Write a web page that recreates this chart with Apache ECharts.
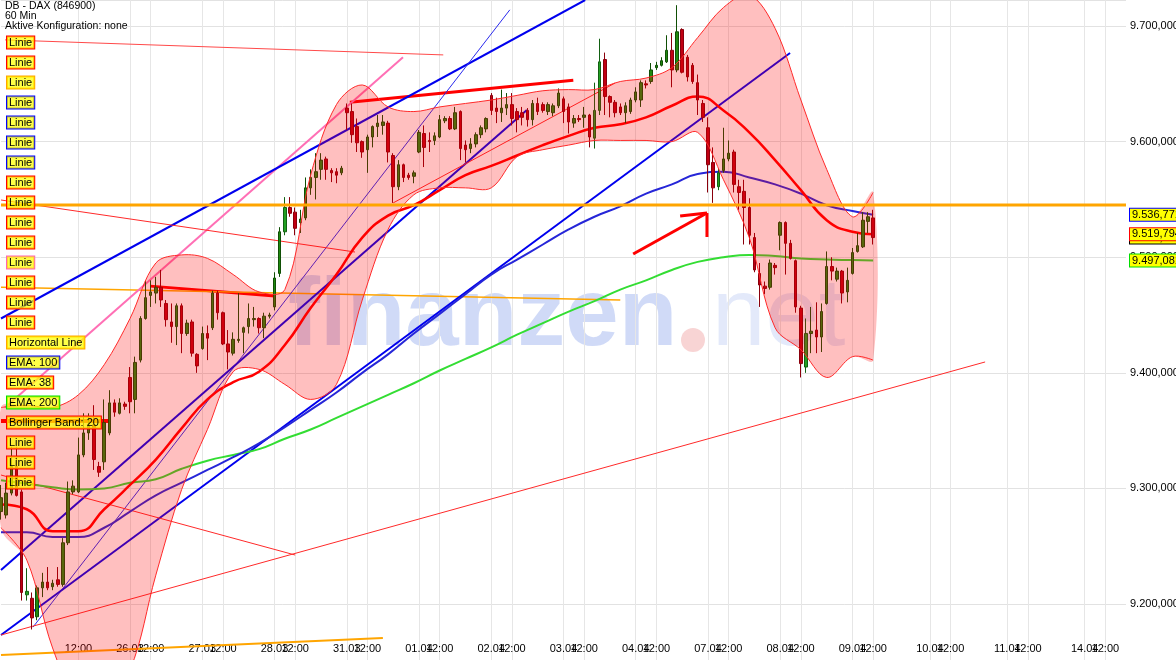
<!DOCTYPE html>
<html><head><meta charset="utf-8">
<script src="https://cdn.jsdelivr.net/npm/echarts@6/dist/echarts.min.js"></script>
<style>html,body{margin:0;padding:0;background:#fff}#c{width:1176px;height:660px}</style>
</head><body><div id="c"></div>
<script>
// ---------- time slots ----------
const days = ['24.03','25.03','26.03','27.03','28.03','31.03','01.04','02.04','03.04','04.04','07.04','08.04','09.04','10.04','11.04','14.04'];
const dayFirstHour = [11,8,8,8,8,8,8,8,8,8,8,8,8,8,8,8];
const dayLastHour  = [21,21,21,21,21,21,21,21,21,21,21,21,22,22,22,16];
const hiddenDayLabels = ['24.03','25.03'];
const hiddenNoonLabels = ['24.03'];

// ---------- candles (60 min) ----------
const opens  = [9280,9277,9296,9319,9297,9208,9205,9189,9214,9219,9215,9221,9217,9253,9297,9297,9329,9348,9355,9319,9323,9348,9374,9365,9373,9396,9377,9411,9447,9467,9469,9474,9460,9444,9440,9458,9434,9444,9416,9421,9434,9439,9469,9452,9425,9417,9428,9435,9440,9446,9447,9439,9449,9457,9486,9522,9543,9539,9530,9534,9560,9569,9576,9585,9575,9574,9573,9629,9626,9613,9600,9593,9604,9613,9614,9616,9588,9561,9580,9571,9570,9591,9607,9601,9601,9604,9618,9620,9611,9626,9597,9594,9598,9606,9611,9640,9629,9625,9629,9632,9626,9625,9627,9619,9633,9632,9626,9625,9631,9637,9630,9616,9620,9621,9623,9603,9627,9671,9639,9634,9630,9625,9626,9636,9636,9650,9652,9664,9666,9669,9679,9662,9697,9673,9666,9651,9633,9612,9582,9561,9575,9585,9591,9561,9557,9543,9517,9486,9475,9474,9493,9519,9530,9512,9497,9456,9405,9434,9437,9431,9460,9492,9481,9488,9470,9486,9505,9509,9531,9534];
const closes = [9292,9296,9319,9294,9210,9211,9188,9214,9219,9214,9218,9217,9253,9297,9302,9329,9348,9355,9325,9314,9357,9374,9366,9374,9371,9375,9409,9447,9465,9470,9474,9463,9446,9440,9458,9434,9443,9417,9406,9434,9430,9469,9452,9425,9418,9429,9429,9439,9447,9447,9439,9449,9450,9482,9522,9543,9538,9525,9533,9560,9569,9574,9584,9576,9573,9571,9577,9625,9606,9599,9591,9604,9613,9616,9617,9591,9561,9580,9569,9569,9573,9608,9595,9600,9605,9619,9620,9611,9625,9594,9593,9598,9606,9612,9620,9627,9626,9629,9632,9620,9619,9621,9619,9633,9626,9627,9632,9631,9642,9626,9617,9620,9619,9623,9604,9627,9669,9639,9634,9625,9625,9631,9636,9643,9651,9649,9662,9666,9670,9679,9662,9695,9660,9656,9652,9636,9621,9580,9560,9573,9585,9590,9563,9556,9543,9519,9489,9476,9473,9495,9491,9530,9512,9499,9457,9408,9434,9436,9431,9453,9492,9488,9488,9469,9480,9504,9510,9532,9535,9517];
const lows   = [9273,9274,9294,9293,9203,9203,9178,9186,9206,9212,9212,9215,9215,9251,9295,9296,9327,9342,9316,9310,9316,9346,9362,9364,9368,9365,9365,9409,9446,9457,9460,9457,9440,9426,9424,9417,9432,9414,9400,9420,9411,9437,9446,9424,9403,9415,9426,9417,9434,9440,9434,9430,9447,9454,9483,9519,9535,9519,9521,9532,9554,9550,9567,9567,9565,9564,9571,9610,9599,9591,9586,9573,9595,9604,9606,9582,9547,9558,9565,9567,9564,9590,9578,9591,9597,9603,9616,9610,9610,9584,9582,9590,9595,9603,9608,9623,9616,9617,9623,9614,9608,9614,9613,9614,9623,9625,9623,9622,9629,9616,9607,9612,9617,9612,9595,9594,9623,9623,9621,9621,9623,9616,9624,9634,9630,9646,9650,9662,9665,9668,9647,9660,9659,9652,9650,9623,9617,9556,9547,9558,9573,9583,9556,9541,9511,9511,9487,9457,9468,9472,9485,9506,9485,9498,9452,9396,9400,9417,9417,9418,9459,9480,9479,9460,9461,9485,9504,9508,9521,9511];
const highs  = [9303,9305,9336,9336,9299,9231,9210,9216,9227,9232,9221,9232,9257,9306,9307,9344,9365,9365,9372,9323,9377,9385,9377,9378,9375,9405,9414,9449,9480,9480,9483,9489,9463,9460,9460,9460,9446,9446,9417,9440,9441,9471,9471,9453,9437,9435,9469,9440,9460,9457,9448,9452,9452,9487,9526,9552,9552,9543,9541,9569,9576,9590,9590,9587,9577,9577,9579,9633,9633,9620,9601,9606,9614,9623,9623,9618,9590,9584,9581,9573,9575,9610,9614,9608,9608,9623,9622,9622,9630,9627,9601,9603,9608,9614,9621,9642,9638,9645,9642,9642,9629,9630,9629,9636,9638,9634,9634,9633,9646,9639,9633,9623,9623,9630,9624,9651,9689,9677,9640,9636,9633,9634,9638,9647,9653,9653,9668,9669,9673,9692,9694,9718,9698,9675,9668,9658,9636,9621,9595,9577,9612,9601,9593,9567,9567,9551,9521,9495,9479,9498,9495,9531,9531,9515,9498,9458,9447,9457,9461,9460,9505,9500,9491,9489,9491,9508,9521,9539,9539,9541];
const brightBars = [5,55,115,116,139,156];

// ---------- indicators (sampled) ----------
const indicatorIdx = [0,5,10,15,20,25,30,35,40,45,50,55,60,65,70,75,80,85,90,95,100,105,110,115,120,125,130,135,140,145,150,155,160,165,169];
const ema100 = [9262,9262,9258,9258,9266,9280,9294,9305,9316,9327,9339,9353,9368,9383,9400,9416,9434,9451,9468,9485,9498,9511,9524,9535,9544,9555,9563,9572,9574,9569,9563,9555,9545,9540,9536.771];
const ema38  = [9286,9282,9263,9263,9282,9303,9325,9352,9377,9392,9401,9424,9456,9485,9517,9536,9545,9558,9571,9579,9588,9597,9605,9612,9615,9621,9631,9639,9627,9608,9584,9558,9532,9522,9519.794];
const ema200 = [9307,9304,9301,9299,9300,9305,9308,9317,9324,9329,9334,9343,9351,9361,9371,9381,9391,9402,9412,9422,9433,9443,9453,9462,9472,9480,9489,9496,9500,9502,9501,9499,9498,9497.5,9497.081];
const bbUpper = [9370,9372,9370,9381,9407,9447,9495,9502,9499,9485,9470,9472,9571,9632,9649,9630,9626,9630,9633,9636,9640,9644,9645,9645,9652,9655,9664,9690,9716,9727,9698,9636,9576,9535,9556];
const bbLower = [9266,9238,9162,9117,9117,9143,9225,9299,9351,9401,9403,9390,9377,9390,9463,9524,9554,9560,9560,9560,9587,9593,9597,9601,9601,9601,9600,9608,9567,9517,9439,9420,9396,9414,9411];

// ---------- drawn lines (slot index, price) ----------
const trendX1 = [0.8, 67.6, 28.9, 0, 0.8, 0, 6.2, 0, 0, 0, 0, 0, 76, 0, 122.5, 131.6, 136.8, 0];
const trendY1 = [9688, 9634, 9475, 9474, 9370, 9447, 9180, 9229.5, 9173.2, 9549.5, 9311.6, 9173.2, 9547, 9156, 9502.8, 9535.7, 9538.3, 9358.3];
const trendX2 = [85.7, 110.9, 53.1, 120, 77.9, 113.2, 98.6, 101.9, 152.9, 68.6, 57, 190.7, 119, 74, 136.8, 136.8, 136.8, 21.1];
const trendY2 = [9675, 9653, 9466.5, 9463, 9673, 9722.5, 9714, 9627.4, 9676.7, 9504.5, 9242.4, 9409.4, 9650.7, 9170.6, 9538.3, 9538.3, 9517.5, 9358.3];
const horizontalLevel = 9545.2;

// ---------- texts ----------
const headerLines = ['DB - DAX (846900)', '60 Min', 'Aktive Konfiguration: none'];
const legendTexts = ['Linie','Linie','Linie','Linie','Linie','Linie','Linie','Linie','Linie','Linie','Linie','Linie','Linie','Linie','Linie','Horizontal Line','EMA: 100','EMA: 38','EMA: 200','Bollinger Band: 20','Linie','Linie','Linie'];
const yMin = 9151.6, yMax = 9722.5;

// ---------- styles ----------
const trendColor = ['#ff4a4a','#ff0000','#ff0000','#ffa500','#ff6fb5','#0000ee','#2a2aee','#0000ee','#0000ee','#ff2a2a','#ff2a2a','#ff2a2a','#ff2a2a','#ffa500','#ff0000','#ff0000','#ff0000','#ff0000'];
const trendWidth = [1, 3, 3, 1.5, 2, 2, 1, 2, 2, 1, 1, 1, 1, 2, 3, 3, 3, 4];
const legendBorder = ['#ff0000','#ff0000','#ffa500','#0000ff','#0000ff','#0000ff','#0000ff','#ff0000','#ff0000','#ff0000','#ff0000','#ff66b3','#ff0000','#ff0000','#ff0000','#ffa500','#0000ff','#ff0000','#00dd00','#ff0000','#ff0000','#ff0000','#ff0000'];
const FONT = '"Liberation Sans", Arial, sans-serif';

// ---------- build ----------
const categories = [], tickText = [];
days.forEach((d, k) => {
  for (let h = dayFirstHour[k]; h <= dayLastHour[k]; h++) {
    categories.push(d + ' ' + (h < 10 ? '0' : '') + h + ':00');
    let t = '';
    if (h === 8 && !hiddenDayLabels.includes(d)) t = d;
    if (h === 12 && !hiddenNoonLabels.includes(d)) t = '12:00';
    tickText.push(t);
  }
});
const lastCat = categories.length - 1;
// a blank end label keeps the real last label ("14.04 12:00") from being treated as the axis max label
const labelText = i => tickText[i] || (i === lastCat ? ' ' : '');
function deFmt(v, dec) {
  const s = Number(v).toFixed(dec);
  const parts = s.split('.');
  return parts[0].replace(/\B(?=(\d{3})+(?!\d))/g, '.') + (parts[1] ? ',' + parts[1] : '');
}
const candleData = opens.map((o, i) => {
  const item = { value: [o, closes[i], lows[i], highs[i]] };
  if (brightBars.includes(i)) item.itemStyle = { color: '#22a022', borderColor: '#126012' };
  return item;
});
const pairs = arr => indicatorIdx.map((x, i) => [x, arr[i]]);
const last = a => a[a.length - 1];
function priceLabel(v, border, text) {
  return {
    symbol: ['none', 'none'], silent: true, animation: false,
    lineStyle: { color: 'rgba(0,0,0,0)', width: 1, type: 'solid' },
    label: { show: true, position: 'end', distance: 4, formatter: text, color: '#000', fontSize: 11, fontFamily: FONT,
      backgroundColor: '#ffff00', borderColor: border, borderWidth: 1, padding: [1, 2, 0, 2] },
    emphasis: { disabled: true },
    data: [{ yAxis: v }]
  };
}

const series = [];
series.push({
  type: 'candlestick', xAxisIndex: 0, data: candleData, barWidth: 3, z: 2,
  itemStyle: { color: '#1f8a10', color0: '#c00012', borderColor: '#0f4f05', borderColor0: '#8a000c', borderWidth: 1 },
  markLine: priceLabel(last(closes), '#000000', deFmt(last(closes), 3))
});
trendX1.forEach((x, i) => {
  series.push({ type: 'line', xAxisIndex: 1, data: [[x, trendY1[i]], [trendX2[i], trendY2[i]]], symbol: 'none', silent: true,
    lineStyle: { color: trendColor[i], width: trendWidth[i] }, z: 2 });
});
series.push({ type: 'line', name: 'EMA 200', xAxisIndex: 1, data: pairs(ema200), smooth: true, symbol: 'none',
  lineStyle: { color: '#33dd33', width: 2 }, z: 2, markLine: priceLabel(last(ema200), '#00dd00', deFmt(last(ema200), 3)) });
series.push({ type: 'line', name: 'EMA 100', xAxisIndex: 1, data: pairs(ema100), smooth: true, symbol: 'none',
  lineStyle: { color: '#2626d8', width: 2 }, z: 2, markLine: priceLabel(last(ema100), '#0000ff', deFmt(last(ema100), 3)) });
series.push({ type: 'line', name: 'EMA 38', xAxisIndex: 1, data: pairs(ema38), smooth: true, symbol: 'none',
  lineStyle: { color: '#ff0000', width: 2.5 }, z: 2, markLine: priceLabel(last(ema38), '#ff0000', deFmt(last(ema38), 3)) });
// Bollinger band: translucent fill drawn over the candles, with thin edges
series.push({
  type: 'custom', name: 'Bollinger Band 20', xAxisIndex: 1, z: 3, silent: true,
  data: [[indicatorIdx[0], bbLower[0]]],
  renderItem: (params, api) => {
    const up = indicatorIdx.map((x, i) => api.coord([x, bbUpper[i]]));
    const lo = indicatorIdx.map((x, i) => api.coord([x, bbLower[i]]));
    return { type: 'group', children: [
      { type: 'polygon', shape: { points: up.concat(lo.slice().reverse()), smooth: 0.35 }, style: { fill: 'rgba(255,0,0,0.25)' } },
      { type: 'polyline', shape: { points: up, smooth: 0.35 }, style: { stroke: '#ff2a2a', lineWidth: 1, fill: null } },
      { type: 'polyline', shape: { points: lo, smooth: 0.35 }, style: { stroke: '#ff2a2a', lineWidth: 1, fill: null } }
    ] };
  }
});
series.push({ type: 'line', xAxisIndex: 1, data: [[0, horizontalLevel], [lastCat, horizontalLevel]], symbol: 'none', silent: true,
  lineStyle: { color: '#ffa500', width: 3 }, z: 4 });

const graphics = [];
graphics.push({ type: 'text', x: 288, y: 319, z: 0, silent: true, style: { text: 'finanzen', font: 'bold 96px ' + FONT, fill: 'rgba(60,100,220,0.24)', verticalAlign: 'middle' } });
graphics.push({ type: 'circle', shape: { cx: 693, cy: 340, r: 12 }, z: 0, silent: true, style: { fill: 'rgba(225,60,60,0.22)' } });
graphics.push({ type: 'text', x: 712, y: 319, z: 0, silent: true, style: { text: 'net', font: '96px ' + FONT, fill: 'rgba(60,100,220,0.14)', verticalAlign: 'middle' } });
headerLines.forEach((t, i) => graphics.push({ type: 'text', x: 5, y: 6.5 + 10 * i, z: 50, silent: true,
  style: { text: t, font: '10.5px ' + FONT, fill: '#000', verticalAlign: 'middle' } }));
legendTexts.forEach((t, i) => graphics.push({ type: 'text', x: 7, y: 42.5 + 20 * i, z: 50, silent: true,
  style: { text: t, font: '11px ' + FONT, fill: '#000', verticalAlign: 'middle', lineHeight: 11,
    backgroundColor: 'rgba(255,255,0,0.72)', borderColor: legendBorder[i], borderWidth: 1, padding: [1, 2, 0, 2] } }));

const chart = echarts.init(document.getElementById('c'), null, { width: 1176, height: 660 });
chart.setOption({
  animation: false,
  backgroundColor: '#ffffff',
  grid: { left: 1, right: 50, top: 0, bottom: 0, outerBoundsMode: 'none', containLabel: false },
  xAxis: [
    { type: 'category', data: categories, boundaryGap: false,
      axisLine: { show: false }, axisTick: { show: false },
      axisLabel: { inside: true, margin: 6, interval: i => labelText(i) !== '', formatter: (v, i) => labelText(i),
        color: '#000', fontSize: 11, fontFamily: FONT, hideOverlap: false, showMinLabel: true, showMaxLabel: true },
      splitLine: { show: true, interval: i => tickText[i] !== '', lineStyle: { color: '#e6e6e6', width: 1 } } },
    { type: 'value', min: 0, max: lastCat, show: false }
  ],
  yAxis: { type: 'value', position: 'right', min: yMin, max: yMax, splitNumber: 5,
    axisLine: { show: false }, axisTick: { show: false },
    axisLabel: { margin: 4, color: '#000', fontSize: 11, fontFamily: FONT, showMinLabel: false, showMaxLabel: false,
      formatter: v => deFmt(v, 3) },
    splitLine: { lineStyle: { color: '#e2e2e2', width: 1 } } },
  graphic: graphics,
  series: series
});
</script>
</body></html>
